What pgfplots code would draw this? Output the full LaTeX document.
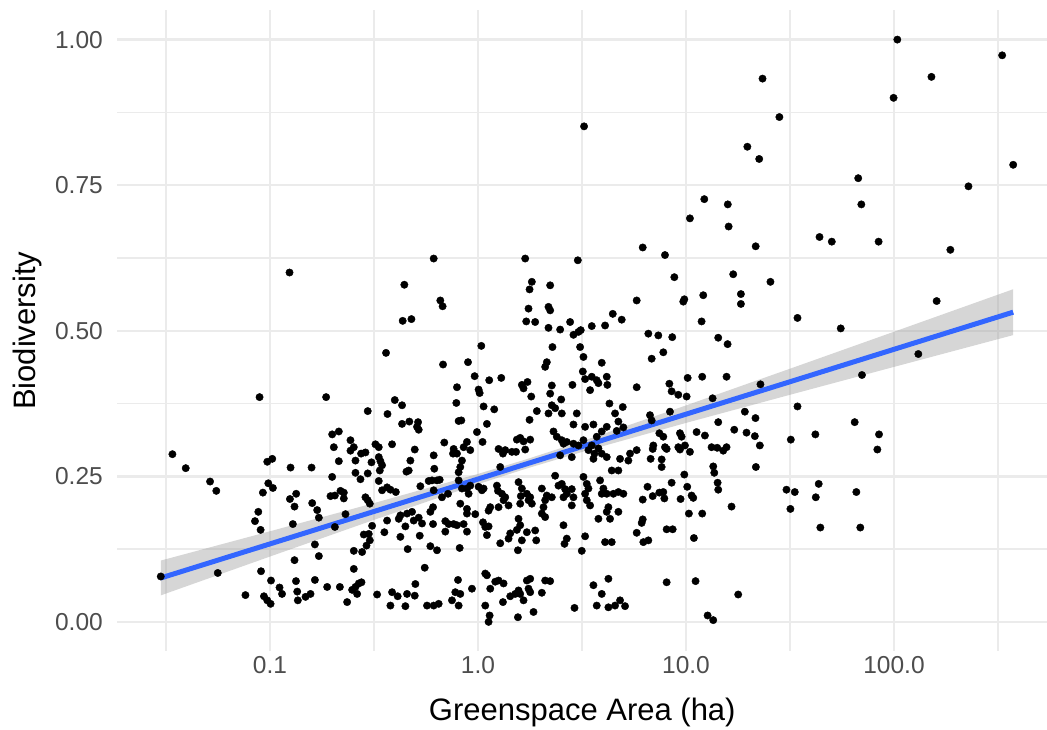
\documentclass[border=0pt]{standalone}
\usepackage{pgfplots}
\pgfplotsset{compat=1.18}
\usepackage{pgfplotstable}
\usepgfplotslibrary{fillbetween}
\usepackage{fontspec}
\setmainfont{Liberation Sans}
\definecolor{gridc}{HTML}{EBEBEB}
\definecolor{tickc}{HTML}{4D4D4D}
\definecolor{smoothc}{HTML}{3366FF}
\definecolor{bandc}{HTML}{999999}

% log10(area in ha), biodiversity
\pgfplotstableread{
L y
-0.906 0.600
-1.050 0.386
-1.469 0.288
-1.405 0.264
-1.288 0.241
-1.258 0.225
-1.013 0.275
-0.989 0.280
-0.901 0.265
-1.008 0.238
-0.986 0.230
-1.034 0.222
-0.904 0.211
-0.874 0.220
-0.882 0.198
-1.056 0.189
-1.072 0.173
-1.045 0.158
-0.890 0.168
-1.525 0.078
-1.251 0.084
-1.043 0.087
-0.882 0.106
-0.995 0.071
-0.954 0.059
-0.942 0.048
-0.875 0.070
-0.869 0.052
-0.866 0.037
-1.118 0.046
-1.029 0.044
-1.013 0.037
-0.997 0.031
-0.354 0.579
-0.362 0.517
-0.320 0.520
-0.442 0.462
-0.730 0.386
-0.400 0.381
-0.365 0.372
-0.530 0.362
-0.435 0.357
-0.365 0.340
-0.330 0.344
-0.288 0.343
-0.293 0.335
-0.285 0.330
-0.701 0.322
-0.669 0.327
-0.693 0.300
-0.613 0.312
-0.597 0.300
-0.613 0.294
-0.562 0.289
-0.541 0.291
-0.493 0.305
-0.477 0.300
-0.413 0.305
-0.304 0.296
-0.669 0.276
-0.589 0.277
-0.512 0.274
-0.477 0.283
-0.469 0.276
-0.461 0.269
-0.472 0.260
-0.325 0.277
-0.333 0.260
-0.344 0.258
-0.800 0.265
-0.589 0.256
-0.565 0.245
-0.530 0.255
-0.701 0.249
-0.477 0.242
-0.461 0.226
-0.437 0.231
-0.421 0.227
-0.395 0.223
-0.277 0.233
-0.237 0.242
-0.797 0.204
-0.773 0.192
-0.765 0.179
-0.709 0.216
-0.688 0.217
-0.661 0.225
-0.645 0.222
-0.645 0.212
-0.541 0.214
-0.530 0.209
-0.520 0.203
-0.637 0.185
-0.688 0.163
-0.509 0.165
-0.525 0.151
-0.549 0.150
-0.520 0.140
-0.536 0.131
-0.557 0.120
-0.597 0.122
-0.450 0.154
-0.437 0.174
-0.381 0.177
-0.373 0.183
-0.341 0.186
-0.317 0.189
-0.309 0.174
-0.285 0.179
-0.269 0.169
-0.349 0.164
-0.373 0.146
-0.338 0.125
-0.280 0.148
-0.256 0.093
-0.784 0.133
-0.765 0.113
-0.597 0.091
-0.829 0.043
-0.805 0.048
-0.784 0.072
-0.725 0.060
-0.664 0.060
-0.629 0.034
-0.605 0.055
-0.589 0.060
-0.573 0.066
-0.560 0.068
-0.581 0.048
-0.485 0.047
-0.413 0.051
-0.386 0.044
-0.421 0.028
-0.349 0.027
-0.341 0.048
-0.301 0.065
-0.304 0.045
-0.245 0.028
-0.213 0.624
-0.181 0.552
-0.170 0.542
0.227 0.624
0.259 0.584
0.248 0.571
0.243 0.538
0.232 0.516
0.275 0.515
0.016 0.474
-0.168 0.442
-0.048 0.446
-0.016 0.422
0.003 0.399
0.008 0.393
0.054 0.415
0.112 0.419
0.211 0.407
0.238 0.412
0.219 0.401
0.256 0.387
-0.101 0.403
-0.104 0.376
-0.093 0.345
-0.080 0.346
0.027 0.370
0.078 0.365
0.043 0.340
0.248 0.347
0.283 0.362
-0.005 0.326
0.022 0.309
-0.162 0.308
-0.117 0.297
-0.120 0.289
-0.101 0.289
-0.069 0.300
-0.053 0.309
-0.037 0.295
-0.077 0.277
-0.085 0.266
-0.093 0.257
-0.213 0.286
-0.210 0.263
0.099 0.297
0.120 0.289
0.131 0.295
0.187 0.313
0.203 0.316
0.163 0.292
0.183 0.292
0.219 0.310
0.251 0.313
0.227 0.296
0.107 0.266
-0.221 0.243
-0.197 0.243
-0.184 0.244
-0.213 0.226
-0.173 0.214
-0.144 0.220
-0.093 0.243
-0.077 0.229
-0.053 0.229
-0.045 0.220
-0.037 0.234
0.003 0.232
0.019 0.226
0.027 0.229
0.091 0.234
0.096 0.225
0.115 0.220
0.131 0.214
0.123 0.209
0.147 0.200
0.195 0.240
0.211 0.229
0.206 0.216
0.235 0.220
0.251 0.214
0.243 0.209
0.203 0.203
0.259 0.203
0.059 0.197
0.051 0.191
0.099 0.197
-0.085 0.203
-0.053 0.194
-0.053 0.186
-0.013 0.185
-0.216 0.197
-0.229 0.189
-0.216 0.168
-0.157 0.173
-0.141 0.168
-0.157 0.155
-0.117 0.168
-0.101 0.166
-0.069 0.168
-0.053 0.155
0.024 0.171
0.035 0.163
0.051 0.164
0.043 0.149
0.107 0.135
0.155 0.152
0.147 0.143
0.187 0.158
0.195 0.177
0.203 0.166
0.211 0.140
0.235 0.154
0.275 0.157
0.280 0.140
0.192 0.123
-0.229 0.130
-0.197 0.123
-0.088 0.127
-0.213 0.028
-0.189 0.031
-0.125 0.037
-0.109 0.051
-0.085 0.048
-0.093 0.028
-0.029 0.057
-0.096 0.072
0.035 0.083
0.043 0.080
0.059 0.057
0.083 0.069
0.099 0.071
0.035 0.028
0.056 0.011
0.051 0.000
0.123 0.066
0.120 0.034
0.155 0.044
0.179 0.048
0.195 0.054
0.203 0.048
0.219 0.037
0.235 0.071
0.243 0.057
0.251 0.051
0.267 0.017
0.192 0.008
0.251 0.074
0.480 0.621
0.347 0.578
0.339 0.541
0.347 0.535
0.339 0.505
0.395 0.502
0.443 0.515
0.459 0.493
0.483 0.498
0.494 0.501
0.547 0.508
0.611 0.509
0.648 0.529
0.691 0.519
0.763 0.552
0.358 0.472
0.491 0.472
0.507 0.455
0.504 0.430
0.515 0.417
0.547 0.421
0.539 0.398
0.571 0.415
0.579 0.410
0.619 0.421
0.622 0.407
0.595 0.445
0.323 0.438
0.331 0.446
0.454 0.407
0.355 0.406
0.347 0.392
0.763 0.403
0.400 0.382
0.632 0.375
0.659 0.358
0.675 0.344
0.696 0.369
0.699 0.334
0.667 0.328
0.339 0.358
0.371 0.367
0.403 0.358
0.355 0.372
0.475 0.358
0.459 0.339
0.515 0.335
0.555 0.339
0.619 0.335
0.595 0.327
0.571 0.318
0.363 0.327
0.379 0.318
0.403 0.312
0.411 0.306
0.427 0.309
0.459 0.306
0.483 0.303
0.507 0.312
0.531 0.295
0.547 0.303
0.560 0.289
0.555 0.280
0.579 0.298
0.595 0.289
0.619 0.283
0.683 0.280
0.723 0.277
0.731 0.289
0.763 0.295
0.395 0.286
0.451 0.283
0.371 0.251
0.387 0.234
0.403 0.237
0.419 0.228
0.427 0.220
0.411 0.214
0.451 0.228
0.459 0.214
0.451 0.200
0.507 0.249
0.523 0.237
0.531 0.229
0.515 0.220
0.523 0.209
0.539 0.200
0.587 0.243
0.603 0.229
0.595 0.220
0.619 0.220
0.651 0.220
0.675 0.223
0.699 0.220
0.643 0.260
0.675 0.260
0.307 0.229
0.331 0.217
0.323 0.209
0.315 0.197
0.355 0.214
0.307 0.186
0.323 0.180
0.411 0.166
0.627 0.197
0.619 0.189
0.579 0.177
0.635 0.177
0.675 0.189
0.427 0.143
0.416 0.134
0.515 0.147
0.611 0.137
0.643 0.137
0.499 0.122
0.763 0.153
0.323 0.071
0.347 0.070
0.307 0.050
0.555 0.063
0.595 0.048
0.627 0.074
0.571 0.028
0.627 0.025
0.659 0.028
0.683 0.037
0.707 0.027
0.464 0.024
0.792 0.643
0.899 0.630
0.944 0.592
0.987 0.550
0.992 0.554
1.083 0.561
1.075 0.516
1.227 0.597
1.264 0.563
1.264 0.546
0.819 0.495
0.867 0.492
0.934 0.489
0.891 0.463
0.835 0.452
1.155 0.488
1.200 0.477
0.920 0.409
0.931 0.396
0.963 0.390
1.003 0.387
1.008 0.419
1.078 0.421
1.195 0.421
1.128 0.384
0.827 0.355
0.835 0.346
0.923 0.361
0.872 0.324
0.891 0.318
0.899 0.300
0.907 0.297
0.843 0.303
0.840 0.297
0.830 0.280
0.883 0.279
0.883 0.266
0.971 0.324
0.979 0.318
0.963 0.300
0.971 0.296
0.995 0.303
1.019 0.292
1.051 0.326
1.091 0.320
1.155 0.343
1.232 0.330
1.291 0.325
1.123 0.300
1.150 0.299
1.179 0.294
1.195 0.300
1.131 0.267
1.136 0.256
1.152 0.239
1.155 0.227
0.992 0.253
1.006 0.232
1.027 0.217
1.035 0.213
0.931 0.239
0.891 0.223
0.896 0.212
0.872 0.222
0.840 0.216
0.815 0.232
0.792 0.210
0.974 0.211
1.219 0.198
1.014 0.186
1.078 0.186
0.792 0.176
0.787 0.170
0.795 0.137
0.819 0.140
0.907 0.159
0.936 0.159
1.038 0.144
0.907 0.068
1.046 0.070
1.251 0.047
1.104 0.011
1.131 0.003
1.406 0.584
1.536 0.522
1.744 0.504
1.358 0.408
1.846 0.424
1.283 0.361
1.334 0.350
1.331 0.319
1.355 0.303
1.336 0.266
1.536 0.370
1.504 0.313
1.622 0.322
1.811 0.343
1.928 0.322
1.920 0.296
1.483 0.227
1.523 0.223
1.502 0.194
1.638 0.237
1.624 0.214
1.646 0.162
1.819 0.223
1.838 0.162
2.016 1.000
2.520 0.973
2.180 0.936
1.998 0.900
1.368 0.933
1.449 0.867
1.295 0.816
1.352 0.795
2.573 0.785
1.828 0.762
1.843 0.717
2.358 0.748
1.088 0.726
1.201 0.717
1.205 0.679
1.019 0.693
1.335 0.645
1.642 0.661
1.701 0.653
1.926 0.653
2.271 0.639
2.205 0.551
2.117 0.460
0.510 0.851
}\pts

% fitted line with 95% band: log10(area), lower, fit, upper
\pgfplotstableread{
L lo fit hi
-1.525 0.0455 0.0754 0.1053
-1.0 0.1122 0.1339 0.1556
-0.5 0.1752 0.1896 0.2040
0.0 0.2365 0.2453 0.2541
0.2285 0.2628 0.2708 0.2788
0.5 0.2918 0.3010 0.3102
1.0 0.3417 0.3567 0.3717
1.5 0.3900 0.4124 0.4348
2.0 0.4379 0.4681 0.4983
2.573 0.4925 0.5319 0.5713
}\fit

\begin{document}
\begin{tikzpicture}
\begin{axis}[
  scale only axis,
  width=929.5pt, height=640.5pt,
  xmin=-1.733, xmax=2.7356,
  ymin=-0.05, ymax=1.05,
  axis line style={draw=none},
  major tick length=0pt, minor tick length=0pt,
  xtick={-1,0,1,2}, xticklabels={0.1,1.0,10.0,100.0},
  minor xtick={-1.5,-0.5,0.5,1.5,2.5},
  ytick={0,0.25,0.5,0.75,1}, yticklabels={0.00,0.25,0.50,0.75,1.00},
  minor ytick={0.125,0.375,0.625,0.875},
  grid=both,
  major grid style={color=gridc, line width=2.4pt},
  minor grid style={color=gridc, line width=1.3pt},
  yticklabel style={font=\fontsize{24.5}{29}\selectfont, text=tickc, anchor=east, inner sep=0pt, xshift=-14.5pt},
  xticklabel style={font=\fontsize{24.5}{29}\selectfont, text=tickc, anchor=north, inner sep=0pt, yshift=-5pt},
  clip=false,
]
\addplot[only marks, mark=*, mark size=3.7pt, mark options={draw=none, fill=black}] table[x=L, y=y] {\pts};
\addplot[name path=hi, draw=none, forget plot] table[x=L, y=hi] {\fit};
\addplot[name path=lo, draw=none, forget plot] table[x=L, y=lo] {\fit};
\addplot[fill=bandc, fill opacity=0.4, draw=none] fill between[of=hi and lo];
\addplot[color=smoothc, line width=5pt] table[x=L, y=fit] {\fit};
\coordinate (sw) at (rel axis cs:0,0);
\coordinate (ne) at (rel axis cs:1,1);
\coordinate (xl) at (rel axis cs:0.5,0);
\coordinate (yl) at (rel axis cs:0,0.5);
\end{axis}
\node[font=\fontsize{31}{37}\selectfont, text=black, anchor=center] at ([yshift=-61pt]xl) {Greenspace Area (ha)};
\node[font=\fontsize{31}{37}\selectfont, text=black, anchor=center, rotate=90] at ([xshift=-90.5pt]yl) {Biodiversity};
\pgfresetboundingbox
\path[use as bounding box] ([shift={(-117.5pt,-79pt)}]sw) rectangle ([shift={(0pt,10.5pt)}]ne);
\end{tikzpicture}
\end{document}
